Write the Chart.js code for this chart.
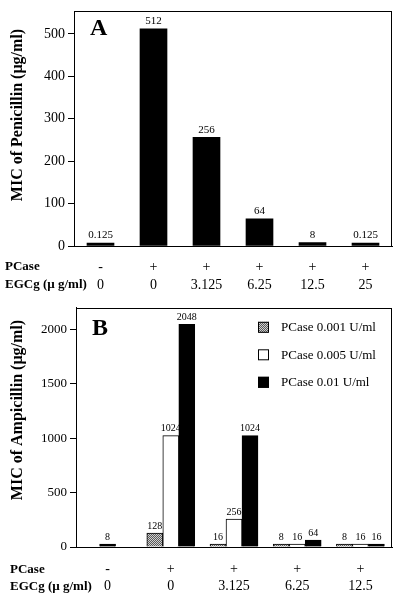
<!DOCTYPE html>
<html>
<head>
<meta charset="utf-8">
<script src="https://cdn.jsdelivr.net/npm/chart.js@4.4.0/dist/chart.umd.min.js"></script>
<style>
  body { margin: 0; background: #fff; }
  canvas { display: block; }
</style>
</head>
<body>
<canvas id="chartA" width="400" height="297"></canvas>
<canvas id="chartB" width="400" height="300"></canvas>
<script>
var serif = 'Liberation Serif';

// panel A - penicillin
var pcaseA = ['-', '+', '+', '+', '+', '+'];
var egcgA = ['0', '0', '3.125', '6.25', '12.5', '25'];
var penicillinMic = [0.125, 512, 256, 64, 8, 0.125];
var ticksA = [0, 100, 200, 300, 400, 500];

// panel B - ampicillin
var pcaseB = ['-', '+', '+', '+', '+'];
var egcgB = ['0', '0', '3.125', '6.25', '12.5'];
var amp001 = [null, 128, 16, 8, 8];
var amp005 = [null, 1024, 256, 16, 16];
var amp01 = [8, 2048, 1024, 64, 16];
var ticksB = [0, 500, 1000, 1500, 2000];
var legendB = ['PCase 0.001 U/ml', 'PCase 0.005 U/ml', 'PCase 0.01 U/ml'];

// fine grey stipple for the 0.001 U/ml bars
function hatch() {
    var c = document.createElement('canvas');
    c.width = 2; c.height = 2;
    var g = c.getContext('2d');
    g.fillStyle = '#cfcfcf';
    g.fillRect(0, 0, 2, 2);
    g.fillStyle = '#5a5a5a';
    g.fillRect(0, 0, 1, 1);
    g.fillRect(1, 1, 1, 1);
    return g.createPattern(c, 'repeat');
}
var grey = hatch();

// frame, value labels, titles, row headings, legend
function decor(cfg) {
    return {
        id: 'decor',
        afterDatasetsDraw: function (chart) {
            var ctx = chart.ctx, a = chart.chartArea;
            ctx.save();
            ctx.strokeStyle = '#000';
            ctx.lineWidth = 1;
            ctx.strokeRect(Math.round(a.left) + 0.5, Math.round(a.top) + 0.5,
                Math.round(a.right - a.left) - 1, Math.round(a.bottom - a.top));

            ctx.fillStyle = '#000';
            ctx.font = cfg.valueSize + 'px ' + serif;
            ctx.textAlign = 'center';
            ctx.textBaseline = 'bottom';
            chart.data.datasets.forEach(function (ds, i) {
                chart.getDatasetMeta(i).data.forEach(function (el, j) {
                    if (ds.data[j] == null) return;
                    ctx.fillText(String(ds.data[j]), el.x, el.y - 2);
                });
            });

            // panel letter
            ctx.font = 'bold 24px ' + serif;
            ctx.textAlign = 'left';
            ctx.textBaseline = 'alphabetic';
            ctx.fillText(cfg.letter, cfg.letterX, cfg.letterY);

            // y title
            ctx.save();
            ctx.translate(cfg.titleX, cfg.titleY);
            ctx.rotate(-Math.PI / 2);
            ctx.font = 'bold 16px ' + serif;
            ctx.textAlign = 'center';
            ctx.textBaseline = 'middle';
            ctx.fillText(cfg.title, 0, 0);
            ctx.restore();

            // row headings
            var x = chart.scales.x;
            ctx.font = 'bold 13px ' + serif;
            ctx.textAlign = 'left';
            ctx.textBaseline = 'middle';
            cfg.rows.forEach(function (r, i) {
                ctx.fillText(r, cfg.rowX, x.top + cfg.pad + cfg.lh / 2 + i * cfg.lh);
            });

            if (cfg.legend) {
                ctx.font = '13px ' + serif;
                chart.data.datasets.forEach(function (ds, i) {
                    var cy = a.top + 19 + i * 27.5;
                    ctx.fillStyle = ds.backgroundColor;
                    ctx.fillRect(a.right - 134, cy - 5, 11, 11);
                    ctx.strokeStyle = '#000';
                    ctx.strokeRect(a.right - 134 + 0.5, cy - 4.5, 10, 10);
                    ctx.fillStyle = '#000';
                    ctx.fillText(ds.label, a.right - 111, cy + 1);
                });
            }
            ctx.restore();
        }
    };
}

function yAxis(max, ticks, size, width) {
    return {
        min: 0,
        max: max,
        afterBuildTicks: function (s) { s.ticks = ticks.map(function (v) { return { value: v }; }); },
        afterFit: function (s) { s.width = width; },
        grid: { drawOnChartArea: false, tickLength: 6, color: '#000' },
        border: { color: '#000' },
        ticks: { padding: 3, color: '#000', font: { family: serif, size: size },
            callback: function (v) { return String(v); } }
    };
}

function xAxis(height, pad, lh) {
    return {
        afterFit: function (s) { s.height = height; },
        grid: { display: false, drawTicks: false },
        border: { color: '#000' },
        ticks: { padding: pad, color: '#000', maxRotation: 0, autoSkip: false,
            font: { family: serif, size: 14, lineHeight: lh + 'px' } }
    };
}

new Chart(document.getElementById('chartA'), {
    type: 'bar',
    data: {
        labels: pcaseA.map(function (p, i) { return [p, egcgA[i]]; }),
        datasets: [{
            label: 'MIC of Penicillin',
            data: penicillinMic,
            backgroundColor: '#000',
            barThickness: 27,
            minBarLength: 3
        }]
    },
    options: {
        responsive: false,
        animation: false,
        layout: { padding: { top: 5, right: 8, left: 0, bottom: 0 } },
        plugins: { legend: { display: false }, tooltip: { enabled: false } },
        scales: { x: xAxis(51, 12, 18), y: yAxis(553, ticksA, 14, 74) }
    },
    plugins: [decor({ valueSize: 11, letter: 'A', letterX: 90, letterY: 35,
        title: 'MIC of Penicillin (\u00b5g/ml)', titleX: 18, titleY: 115,
        rows: ['PCase', 'EGCg (\u00b5 g/ml)'], rowX: 5, pad: 12, lh: 18 })]
});

new Chart(document.getElementById('chartB'), {
    type: 'bar',
    data: {
        labels: pcaseB.map(function (p, i) { return [p, egcgB[i]]; }),
        datasets: [
            { label: legendB[0], data: amp001, backgroundColor: grey, borderColor: '#000', borderWidth: 1 },
            { label: legendB[1], data: amp005, backgroundColor: '#fff', borderColor: '#000', borderWidth: 1 },
            { label: legendB[2], data: amp01, backgroundColor: '#000', borderColor: '#000', borderWidth: 1 }
        ]
    },
    options: {
        responsive: false,
        animation: false,
        datasets: { bar: { barThickness: 16, minBarLength: 3, skipNull: true } },
        layout: { padding: { top: 8, right: 8, left: 0, bottom: 0 } },
        plugins: { legend: { display: false }, tooltip: { enabled: false } },
        scales: { x: xAxis(50, 14, 17), y: yAxis(2200, ticksB, 13, 76) }
    },
    plugins: [decor({ valueSize: 10, letter: 'B', letterX: 92, letterY: 38,
        title: 'MIC of Ampicillin (\u00b5g/ml)', titleX: 18, titleY: 113,
        rows: ['PCase', 'EGCg (\u00b5 g/ml)'], rowX: 10, pad: 14, lh: 17, legend: true })]
});
</script>
</body>
</html>
